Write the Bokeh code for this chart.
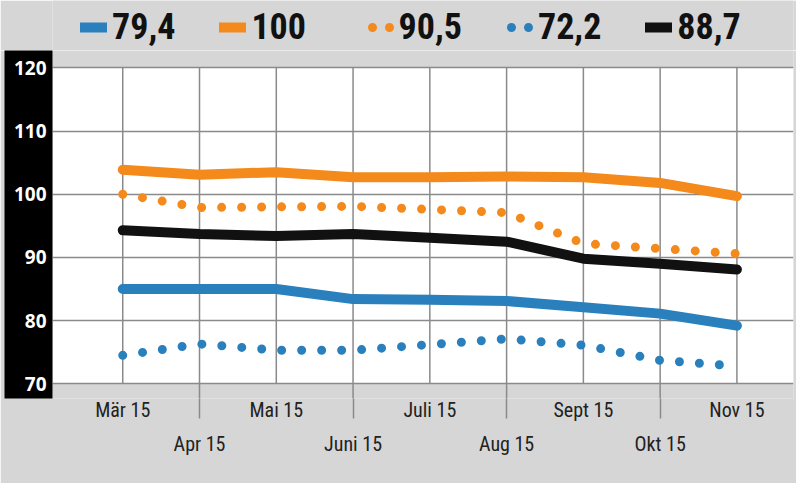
from bokeh.plotting import figure
from bokeh.layouts import column
from bokeh.models import (Range1d, FixedTicker, LinearAxis, BoxAnnotation,
                          Legend, LegendItem)
from bokeh.embed import file_html
from bokeh.resources import INLINE

# ---- data ----
months = ["Mär 15", "Apr 15", "Mai 15", "Juni 15", "Juli 15",
          "Aug 15", "Sept 15", "Okt 15", "Nov 15"]
y_ticks = [70, 80, 90, 100, 110, 120]

blue_solid = [85.0, 85.0, 85.0, 83.4, 83.3, 83.1, 82.1, 81.1, 79.2]      # 79,4
orange_solid = [103.9, 103.1, 103.5, 102.7, 102.7, 102.8, 102.7, 101.8, 99.7]  # 100
orange_dot = [100.0, 97.9, 98.0, 98.1, 97.6, 97.1, 92.2, 91.4, 90.6]     # 90,5
blue_dot = [74.5, 76.3, 75.3, 75.3, 76.2, 77.1, 76.1, 73.7, 72.8]        # 72,2
black_solid = [94.3, 93.7, 93.4, 93.7, 93.1, 92.5, 89.8, 89.0, 88.1]     # 88,7

legend_labels = ["79,4", "100  ", "90,5", "72,2", "88,7"]

BLUE = "#2a80bd"
ORANGE = "#f48a1c"
BLACK = "#111111"
METAL = "#d6d6d6"
GRID = "#8a8a8a"
NARROW = "Liberation Sans Narrow, Roboto Condensed, DejaVu Sans Condensed, sans-serif"

styles = [
    dict(line_color=BLUE, line_width=10),
    dict(line_color=ORANGE, line_width=10),
    dict(line_color=ORANGE, line_width=9, line_dash="0 17", line_dash_offset=12),
    dict(line_color=BLUE, line_width=9, line_dash="0 17", line_dash_offset=12),
    dict(line_color=BLACK, line_width=10),
]
series = [blue_solid, orange_solid, orange_dot, blue_dot, black_solid]

x = list(range(len(months)))

# ---------- legend strip on top (series drawn outside its visible range) ----------
pl = figure(width=796, height=50, output_backend="svg", toolbar_location=None,
            x_axis_type=None, y_axis_type=None, x_range=Range1d(0, 1),
            y_range=Range1d(0, 1), min_border=0, background_fill_color=METAL,
            border_fill_color=METAL, outline_line_color=None)
pl.grid.visible = False
leg_r = [pl.line(x, vals, line_cap="round", line_join="round", **st)
         for vals, st in zip(series, styles)]
legend = Legend(items=[LegendItem(label=legend_labels[i], renderers=[r])
                       for i, r in enumerate(leg_r)],
                orientation="horizontal", location=(28, 2), padding=0, margin=0,
                spacing=44, glyph_width=27, glyph_height=30, label_height=42,
                label_standoff=5, label_text_font=NARROW, label_text_font_size="36px",
                label_text_font_style="bold", label_text_color=BLACK,
                background_fill_alpha=0, border_line_color=None)
pl.add_layout(legend)

# ---------- main chart ----------
p = figure(width=796, height=433, output_backend="svg", toolbar_location=None,
           x_range=Range1d(-0.915, 8.737), y_range=Range1d(67.66, 122.77),
           min_border_left=52, min_border_right=3, min_border_top=0,
           min_border_bottom=85, background_fill_color=METAL,
           border_fill_color=METAL, outline_line_color=None)

# white plotting area between the lowest and highest tick
p.add_layout(BoxAnnotation(bottom=min(y_ticks), top=max(y_ticks), fill_color="white",
                           fill_alpha=1.0, line_color=None, level="image"))

# horizontal grid
p.ygrid.ticker = FixedTicker(ticks=y_ticks)
p.ygrid.grid_line_color = GRID
p.ygrid.grid_line_width = 1.5
p.xgrid.visible = False

# vertical grid lines within white area
p.segment(x0=x, y0=[min(y_ticks)] * len(x), x1=x, y1=[max(y_ticks)] * len(x),
          line_color=GRID, line_width=1.5, level="underlay")
# separators for the second label row continue down
xe = x[1::2]
p.segment(x0=xe, y0=[p.y_range.start] * len(xe), x1=xe, y1=[min(y_ticks)] * len(xe),
          line_color=GRID, line_width=1.5, level="underlay")

# series
main_styles = [dict(st) for st in styles]
for st in main_styles:
    if "line_dash" in st:
        st["line_dash"] = "0 20"
        st["line_dash_offset"] = 0
for vals, st in zip(series, main_styles):
    p.line(x, vals, line_cap="round", line_join="round", **st)

# y axis: black strip
ya = p.yaxis[0]
ya.ticker = FixedTicker(ticks=y_ticks)
ya.background_fill_color = "black"
ya.axis_line_color = None
ya.major_tick_line_color = None
ya.minor_tick_line_color = None
ya.major_tick_out = 0
ya.major_tick_in = 0
ya.major_label_standoff = 6
ya.major_label_text_color = "white"
ya.major_label_text_font = "Open Sans"
ya.major_label_text_font_style = "bold"
ya.major_label_text_font_size = "19px"
ya.axis_label = " "
ya.axis_label_text_font_size = "2px"
ya.axis_label_standoff = 1

# x axis row 1 (odd months) with separators as minor ticks
xa = p.xaxis[0]
xa.ticker = FixedTicker(ticks=x[0::2], minor_ticks=x[1::2])
xa.major_label_overrides = {i: months[i] for i in x[0::2]}
xa.axis_line_color = None
xa.major_tick_out = 0
xa.major_tick_in = 0
xa.major_tick_line_color = None
xa.minor_tick_in = 0
xa.minor_tick_out = 20
xa.minor_tick_line_color = GRID
xa.minor_tick_line_width = 1.5
xa.major_label_standoff = -21
xa.major_label_text_font = NARROW
xa.major_label_text_font_size = "20px"
xa.major_label_text_color = "#222222"

# x axis row 2 (even months)
xa2 = LinearAxis(ticker=FixedTicker(ticks=x[1::2]),
                 major_label_overrides={i: months[i] for i in x[1::2]},
                 axis_line_color=None, major_tick_line_color=None,
                 minor_tick_line_color=None, major_tick_out=0, major_tick_in=0,
                 major_label_standoff=7, major_label_text_font=NARROW,
                 major_label_text_font_size="20px", major_label_text_color="#222222")
p.add_layout(xa2, "below")

page = column(pl, p, spacing=0)
open("out.html", "w").write(file_html(page, INLINE))
